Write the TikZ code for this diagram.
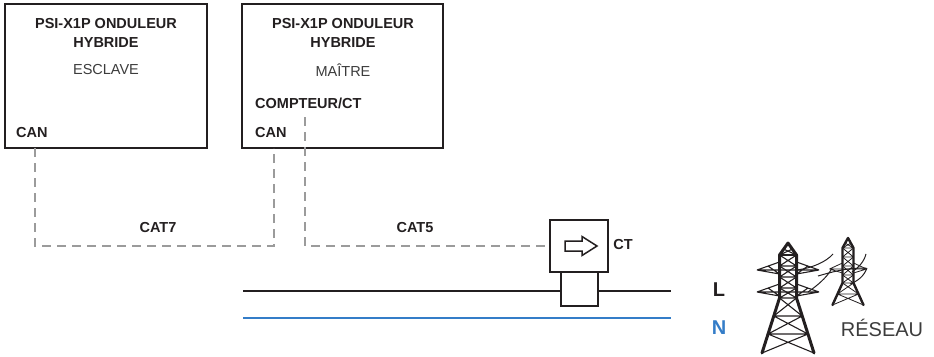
\documentclass[tikz,border=0pt]{standalone}
\usepackage{fontspec}
\setmainfont{Liberation Sans}
\begin{document}
\definecolor{ink}{RGB}{35,31,32}
\definecolor{softink}{RGB}{60,60,60}
\definecolor{cable}{RGB}{155,155,155}
\definecolor{neutral}{RGB}{52,125,200}
\begin{tikzpicture}[x=1pt,y=-1pt,
  unitbox/.style={draw=ink,line width=2.5pt,fill=white,inner sep=0pt},
  ctbox/.style={draw=ink,line width=1.6pt,fill=white,inner sep=0pt},
  lbl/.style={text=ink,font=\fontsize{14.5}{17}\selectfont\bfseries,inner sep=0pt},
  sublbl/.style={text=softink,font=\fontsize{14.5}{17}\selectfont,inner sep=0pt},
  biglbl/.style={text=ink,font=\fontsize{20}{24}\selectfont\bfseries,inner sep=0pt},
  gridlbl/.style={text=softink,font=\fontsize{20}{24}\selectfont,inner sep=0pt},
  dashline/.style={draw=cable,line width=1.6pt,dash pattern=on 9pt off 6pt},
  phase/.style={line width=1.8pt},
  leg/.style={line width=3pt,line join=round,line cap=round},
  lattice/.style={line width=1.1pt},
  wire/.style={line width=1pt}]
\useasboundingbox (0,0) rectangle (934,356);

% mains conductors
\coordinate (Lstart) at (243,291);
\coordinate (Lend) at (671,291);
\coordinate (Nstart) at (243,318);
\coordinate (Nend) at (671,318);
\draw[phase,ink] (Lstart) -- (Lend);
\draw[phase,neutral] (Nstart) -- (Nend);

% inverters
\node[unitbox,minimum width=202pt,minimum height=144pt] (slave) at (106,76) {};
\node[unitbox,minimum width=201pt,minimum height=144pt] (master) at (342.5,76) {};

\node[lbl] (t1a) at (106,24) {PSI-X1P ONDULEUR};
\node[lbl] (t1b) at (106,43) {HYBRIDE};
\node[sublbl] (t1c) at (106,70) {ESCLAVE};
\node[lbl,anchor=west] (can1) at (16,133) {CAN};

\node[lbl] (t2a) at (343,24) {PSI-X1P ONDULEUR};
\node[lbl] (t2b) at (343,43) {HYBRIDE};
\node[sublbl] (t2c) at (343,70) {MAÎTRE};
\node[lbl,anchor=west] (meter) at (255,103) {COMPTEUR/CT};
\node[lbl,anchor=west] (can2) at (255,133) {CAN};

% current transformer
\node[ctbox,minimum width=37pt,minimum height=34pt] (clamp) at (579.5,289) {};
\node[ctbox,minimum width=58pt,minimum height=52pt] (ct) at (579,246) {};
\draw[line width=1.5pt,line join=miter,ink] (565,241) -- (582,241) -- (582,236.5) -- (597,246)
  -- (582,255.5) -- (582,251) -- (565,251) -- cycle;
\node[lbl] (ctl) at (623,245) {CT};

% communication cables
\coordinate (canS) at (35,148);
\coordinate (canM) at (274,148);
\coordinate (ctport) at (305,117);
\coordinate (busY) at (0,246);
\draw[dashline] (canS) -- (canS |- busY) -- (canM |- busY) -- (canM);
\draw[dashline] (ctport) -- (ctport |- ct.west) -- (ct.west);
\node[lbl] (cat7) at (158,228) {CAT7};
\node[lbl] (cat5) at (415,228) {CAT5};

% grid labels
\node[biglbl] (Ll) at (719,290) {L};
\node[biglbl,text=neutral] (Nl) at (719,328) {N};
\node[gridlbl] (grid) at (882,328) {RÉSEAU};

% overhead line wires
\draw[wire,ink] (797,270) .. controls (812,268) and (826,262) .. (833,254);
\draw[wire,ink] (808,292) .. controls (818,285) and (826,278) .. (831,270);
\draw[wire,ink] (818,276) .. controls (832,272) and (845,268) .. (866,268);
\draw[wire,ink] (866,254) .. controls (864,262) and (858,268) .. (852,272);
\draw[wire,ink] (867,268) .. controls (864,276) and (858,281) .. (850,284);

% large pylon
\begin{scope}[shift={(788,243)},ink]
  \draw[leg] (-26,110) -- (-8.5,55) -- (-8.5,12) -- (0,0) -- (8.5,12) -- (8.5,55) -- (26,110);
  \draw[lattice] (-4.5,6) -- (8.5,12) (4.5,6) -- (-8.5,12);
  \foreach \a/\b in {12/23,23/34,34/45,45/55}{
    \draw[lattice] (-8.5,\a) -- (8.5,\b) (8.5,\a) -- (-8.5,\b) (-8.5,\b) -- (8.5,\b);
  }
  \draw[lattice] (-8.5,12) -- (8.5,12);
  \draw[lattice] (-8.5,55) -- (14.2,73) (8.5,55) -- (-14.2,73) (-14.2,73) -- (14.2,73)
    (-14.2,73) -- (20,91) (14.2,73) -- (-20,91) (-20,91) -- (20,91)
    (-20,91) -- (26,110) (20,91) -- (-26,110);
  \foreach \y in {27,49}{
    \draw[lattice] (-31,\y) -- (31,\y)
      (-31,\y) -- (-8.5,\y-8) (31,\y) -- (8.5,\y-8)
      (-31,\y) -- (-8.5,\y+4) (31,\y) -- (8.5,\y+4)
      (-20,\y-4) -- (-8.5,\y+4) (20,\y-4) -- (8.5,\y+4);
  }
\end{scope}

% small pylon
\begin{scope}[shift={(848,238)},ink]
  \draw[leg,line width=2.4pt] (-15.5,67) -- (-5.5,45) -- (-5.5,10) -- (0,0) -- (5.5,10) -- (5.5,45) -- (15.5,67);
  \draw[lattice,line width=0.8pt] (-3,5) -- (5.5,10) (3,5) -- (-5.5,10) (-5.5,10) -- (5.5,10);
  \foreach \a/\b in {10/19,19/28,28/37,37/45}{
    \draw[lattice,line width=0.8pt] (-5.5,\a) -- (5.5,\b) (5.5,\a) -- (-5.5,\b) (-5.5,\b) -- (5.5,\b);
  }
  \draw[lattice,line width=0.8pt] (-5.5,45) -- (10.5,56) (5.5,45) -- (-10.5,56) (-10.5,56) -- (10.5,56)
    (-10.5,56) -- (15.5,67) (10.5,56) -- (-15.5,67);
  \draw[lattice,line width=0.8pt] (-18.5,31) -- (18.5,31)
    (-18.5,31) -- (-5.5,25) (18.5,31) -- (5.5,25)
    (-18.5,31) -- (-5.5,35) (18.5,31) -- (5.5,35);
\end{scope}
\end{tikzpicture}
\end{document}
